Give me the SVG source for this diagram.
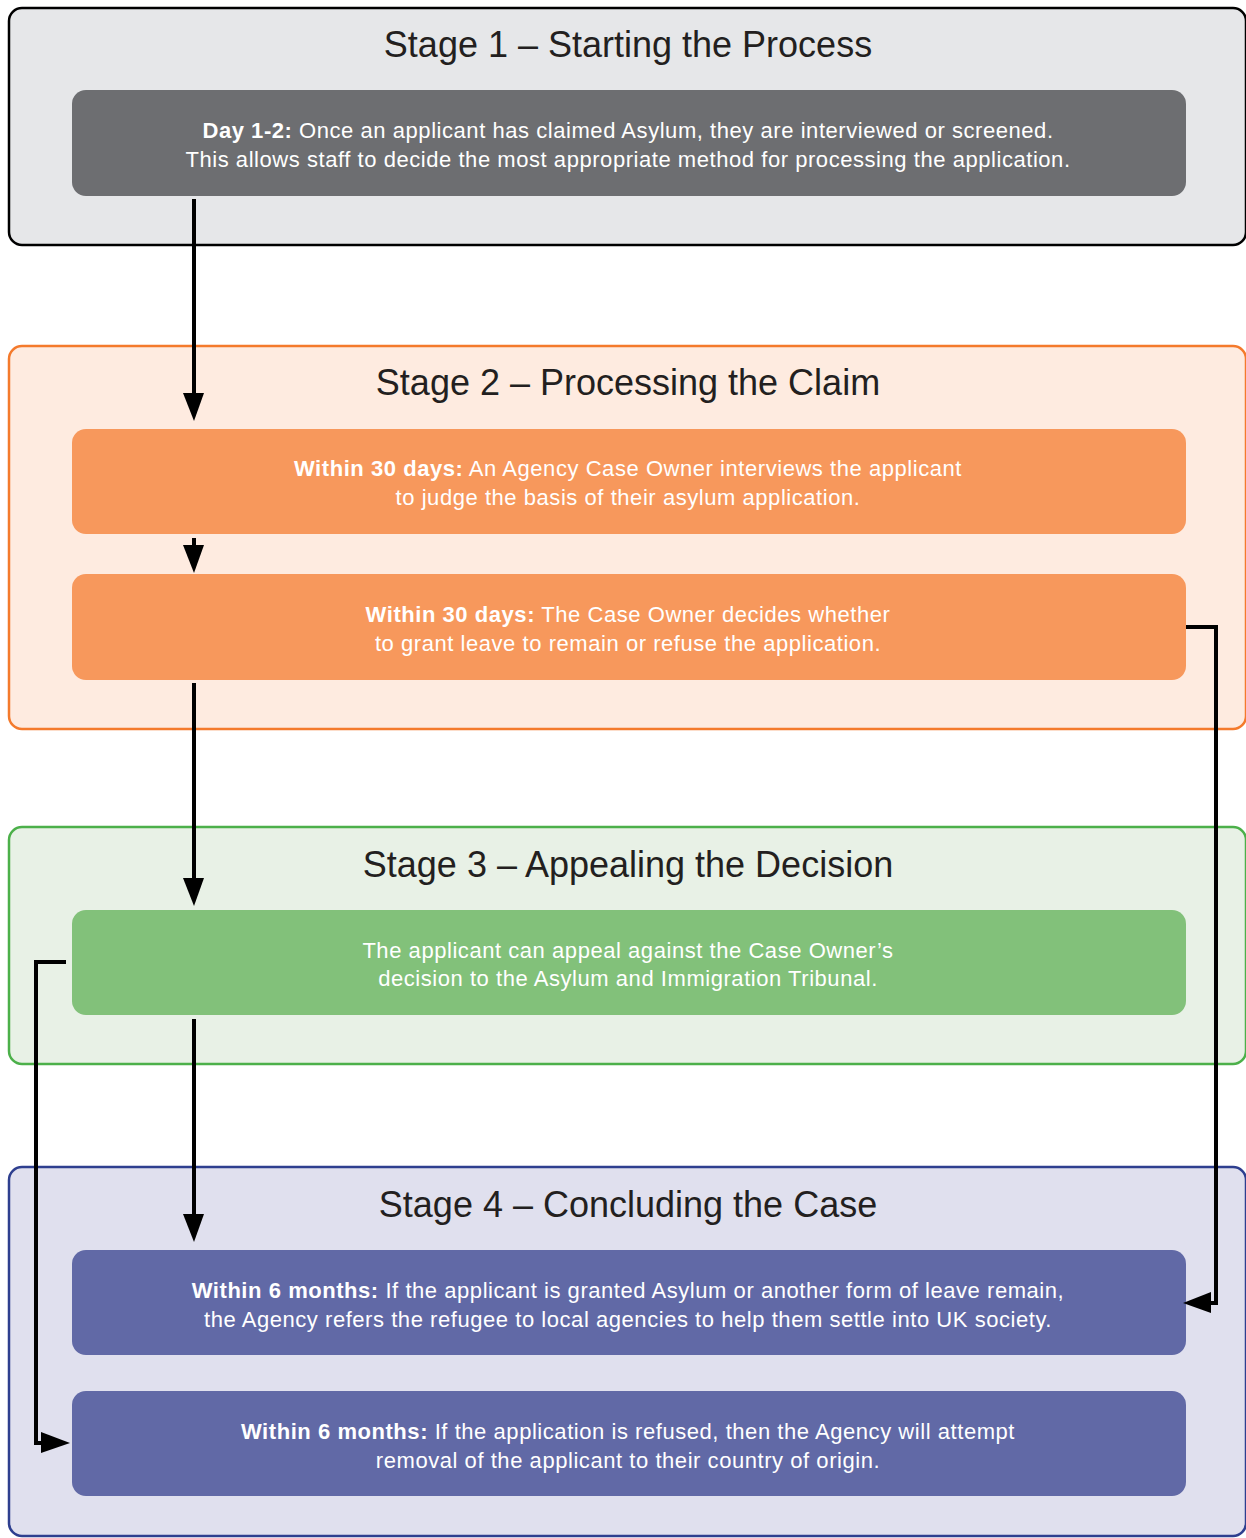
<svg xmlns="http://www.w3.org/2000/svg" width="1246" height="1538" viewBox="0 0 1246 1538">
<style>
.title{font-family:"Liberation Sans",Arial,sans-serif;font-size:36px;fill:#231f20;text-anchor:middle}
.txt{font-family:"Liberation Sans",Arial,sans-serif;font-size:22px;letter-spacing:0.55px;fill:#ffffff;text-anchor:middle}
.b{font-weight:bold}
.conn{fill:none;stroke:#000;stroke-width:4}
.head{fill:#000}
</style>
<rect width="1246" height="1538" fill="#ffffff"/>
<g id="stage1">
<rect x="9" y="8" width="1237" height="237" rx="13" fill="#e6e7e9" stroke="#000" stroke-width="2.5"/>
<text class="title" x="628" y="57">Stage 1 – Starting the Process</text>
</g>
<g id="stage2">
<rect x="9" y="346" width="1237" height="383" rx="13" fill="#feebe0" stroke="#f47a2c" stroke-width="2.5"/>
<text class="title" x="628" y="395">Stage 2 – Processing the Claim</text>
</g>
<g id="stage3">
<rect x="9" y="827" width="1237" height="237" rx="13" fill="#e8f1e6" stroke="#4cb04a" stroke-width="2.5"/>
<text class="title" x="628" y="877">Stage 3 – Appealing the Decision</text>
</g>
<g id="stage4">
<rect x="9" y="1167" width="1237" height="369" rx="13" fill="#e0e0ee" stroke="#2e3f8f" stroke-width="2.5"/>
<text class="title" x="628" y="1217">Stage 4 – Concluding the Case</text>
</g>
<g id="box1">
<rect x="72" y="90" width="1114" height="106" rx="14" fill="#6d6e71"/>
<text class="txt" x="628" y="138"><tspan class="b">Day 1-2:</tspan> Once an applicant has claimed Asylum, they are interviewed or screened.</text>
<text class="txt" x="628" y="167">This allows staff to decide the most appropriate method for processing the application.</text>
</g>
<g id="box2a">
<rect x="72" y="429" width="1114" height="105" rx="14" fill="#f7985c"/>
<text class="txt" x="628" y="476"><tspan class="b">Within 30 days:</tspan> An Agency Case Owner interviews the applicant</text>
<text class="txt" x="628" y="505">to judge the basis of their asylum application.</text>
</g>
<g id="box2b">
<rect x="72" y="574" width="1114" height="106" rx="14" fill="#f7985c"/>
<text class="txt" x="628" y="622"><tspan class="b">Within 30 days:</tspan> The Case Owner decides whether</text>
<text class="txt" x="628" y="651">to grant leave to remain or refuse the application.</text>
</g>
<g id="box3">
<rect x="72" y="910" width="1114" height="105" rx="14" fill="#82c17a"/>
<text class="txt" x="628" y="958">The applicant can appeal against the Case Owner’s</text>
<text class="txt" x="628" y="986">decision to the Asylum and Immigration Tribunal.</text>
</g>
<g id="box4a">
<rect x="72" y="1250" width="1114" height="105" rx="14" fill="#6169a6"/>
<text class="txt" x="628" y="1298"><tspan class="b">Within 6 months:</tspan> If the applicant is granted Asylum or another form of leave remain,</text>
<text class="txt" x="628" y="1327">the Agency refers the refugee to local agencies to help them settle into UK society.</text>
</g>
<g id="box4b">
<rect x="72" y="1391" width="1114" height="105" rx="14" fill="#6169a6"/>
<text class="txt" x="628" y="1439"><tspan class="b">Within 6 months:</tspan> If the application is refused, then the Agency will attempt</text>
<text class="txt" x="628" y="1468">removal of the applicant to their country of origin.</text>
</g>
<g id="connectors">
<path class="conn" d="M194 199V395"/>
<polygon class="head" points="183,393 204,393 194,421"/>
<path class="conn" d="M194 538V547"/>
<polygon class="head" points="183,545 204,545 194,573"/>
<path class="conn" d="M194 683V880"/>
<polygon class="head" points="183,878 204,878 194,906"/>
<path class="conn" d="M194 1019V1216"/>
<polygon class="head" points="183,1214 204,1214 194,1242"/>
<path class="conn" d="M1186 627H1216V1303H1208"/>
<polygon class="head" points="1211,1292 1211,1313 1183,1303"/>
<path class="conn" d="M66 962H36V1443H44"/>
<polygon class="head" points="41,1432 41,1453 70,1443"/>
</g>
</svg>
